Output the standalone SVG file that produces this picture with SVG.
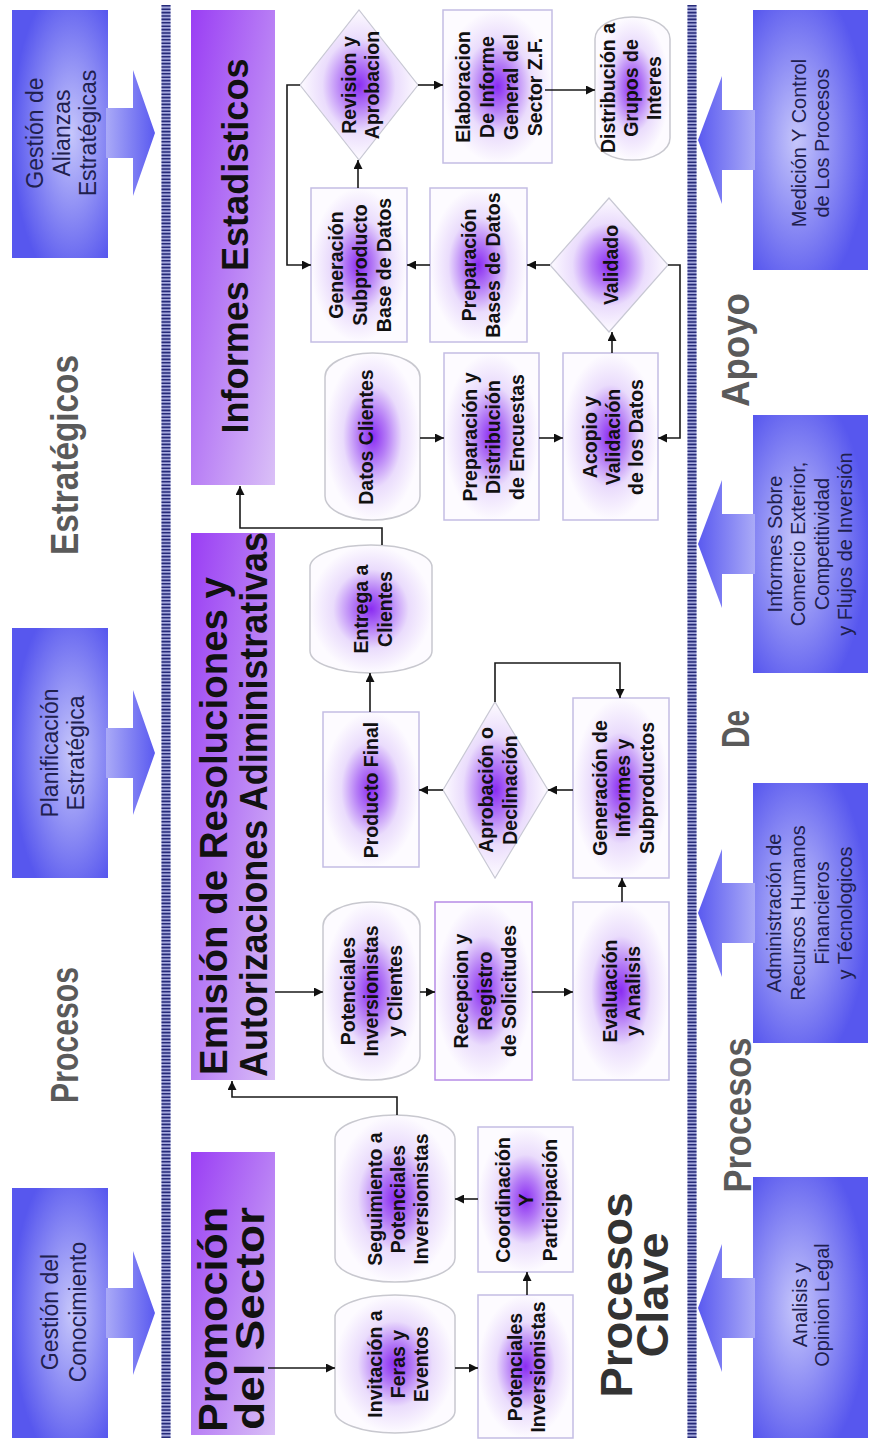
<svg xmlns="http://www.w3.org/2000/svg" width="869" height="1443" viewBox="0 0 869 1443">
<defs>
<style>
.nt{font-family:"Liberation Sans",Arial,sans-serif;font-weight:bold;font-size:19.5px;fill:#111;text-anchor:middle}
.bt{font-family:"Liberation Sans",Arial,sans-serif;font-size:23px;fill:#20204e;text-anchor:middle}
.st{font-family:"Liberation Sans",Arial,sans-serif;font-size:20px;fill:#20204e;text-anchor:middle}
.lb{font-family:"Liberation Sans",Arial,sans-serif;font-weight:bold;font-size:38px;fill:#5a5a5a;text-anchor:middle}
.ck{font-family:"Liberation Sans",Arial,sans-serif;font-weight:bold;font-size:44px;fill:#333;text-anchor:middle}
.tt{font-family:"Liberation Sans",Arial,sans-serif;font-weight:bold;fill:#111}
.rn{fill:url(#ng);stroke:#c3bde4;stroke-width:1.5}
.tn{fill:url(#ng);stroke:#c8c8cf;stroke-width:1.5}
.dn{fill:url(#ng);stroke:#c8c8d4;stroke-width:1.2}
.bar{fill:url(#barg)}
.bl{fill:url(#bbL)}
.br{fill:url(#bbR)}
.al{fill:url(#agL)}
.ar{fill:url(#agR)}
.c{fill:none;stroke:#1a1a1a;stroke-width:1.6;marker-end:url(#ah)}
.sepa{stroke:#a4a8dc;stroke-width:9}
.sepb{stroke:#262a78;stroke-width:9;stroke-dasharray:1.6 1.8}
</style>
<radialGradient id="ng" cx="0.5" cy="0.5" r="0.5">
<stop offset="0" stop-color="#8a2cf2"/>
<stop offset="0.3" stop-color="#b57cf6"/>
<stop offset="0.62" stop-color="#eadcfc"/>
<stop offset="1" stop-color="#fdfbff"/>
</radialGradient>
<linearGradient id="barg" x1="1" y1="0" x2="0" y2="1">
<stop offset="0" stop-color="#9a3ef4"/>
<stop offset="0.5" stop-color="#b87ef5"/>
<stop offset="1" stop-color="#dac0f7"/>
</linearGradient>
<radialGradient id="bbL" cx="0.5" cy="0.62" r="0.62">
<stop offset="0" stop-color="#c6c6fb"/>
<stop offset="1" stop-color="#5757ee"/>
</radialGradient>
<radialGradient id="bbR" cx="0.5" cy="0.38" r="0.62">
<stop offset="0" stop-color="#c6c6fb"/>
<stop offset="1" stop-color="#5757ee"/>
</radialGradient>
<linearGradient id="agL" x1="0" y1="0" x2="0" y2="1">
<stop offset="0" stop-color="#aaaaf7"/>
<stop offset="1" stop-color="#5a5af0"/>
</linearGradient>
<linearGradient id="agR" x1="0" y1="0" x2="0" y2="1">
<stop offset="0" stop-color="#5a5af0"/>
<stop offset="1" stop-color="#aaaaf7"/>
</linearGradient>
<marker id="ah" viewBox="0 0 10 10" refX="10" refY="5" markerWidth="10" markerHeight="9" markerUnits="userSpaceOnUse" orient="auto">
<path d="M0,0 L10,5 L0,10 z" fill="#111"/>
</marker>
</defs>
<rect width="869" height="1443" fill="#fff"/>
<g transform="translate(0,1443) rotate(-90)">

<g id="separators">
<line class="sepa" x1="5" y1="166" x2="1438" y2="166"/>
<line class="sepb" x1="5" y1="166" x2="1438" y2="166"/>
<line class="sepa" x1="5" y1="692" x2="1438" y2="692"/>
<line class="sepb" x1="5" y1="692" x2="1438" y2="692"/>
</g>

<g id="labels">
<text class="lb" x="988" y="78" textLength="200" lengthAdjust="spacingAndGlyphs">Estratégicos</text>
<text class="lb" x="408" y="78" textLength="136" lengthAdjust="spacingAndGlyphs">Procesos</text>
<text class="lb" x="1093" y="749" textLength="114" lengthAdjust="spacingAndGlyphs">Apoyo</text>
<text class="lb" x="714" y="749" textLength="38" lengthAdjust="spacingAndGlyphs">De</text>
<text class="lb" x="328" y="751" textLength="155" lengthAdjust="spacingAndGlyphs">Procesos</text>
<text class="ck" x="148" y="632" textLength="205" lengthAdjust="spacingAndGlyphs">Procesos</text>
<text class="ck" x="148" y="668" textLength="125" lengthAdjust="spacingAndGlyphs">Clave</text>
</g>

<g id="gestion-alianzas">
<rect class="bl" x="1185" y="12" width="248" height="96"/>
<polygon class="al" points="1285,106 1285,133 1247,133 1310,155 1373,133 1335,133 1335,106"/>
<text class="bt" x="1310" y="43">Gestión de</text>
<text class="bt" x="1310" y="70">Alianzas</text>
<text class="bt" x="1310" y="96">Estratégicas</text>
</g>
<g id="planificacion">
<rect class="bl" x="565" y="12" width="250" height="96"/>
<polygon class="al" points="665,106 665,133 628,133 690,155 753,133 715,133 715,106"/>
<text class="bt" x="690" y="58">Planificación</text>
<text class="bt" x="690" y="84">Estratégica</text>
</g>
<g id="gestion-conocimiento">
<rect class="bl" x="5" y="12" width="250" height="96"/>
<polygon class="al" points="105,106 105,133 68,133 130,155 192,133 155,133 155,106"/>
<text class="bt" x="131" y="58">Gestión del</text>
<text class="bt" x="131" y="86">Conocimiento</text>
</g>

<g id="medicion">
<rect class="br" x="1173" y="753" width="260" height="115"/>
<polygon class="ar" points="1273,755 1273,722 1239,722 1303,698 1367,722 1333,722 1333,755"/>
<text class="st" x="1300" y="806">Medición Y Control</text>
<text class="st" x="1300" y="829">de Los Procesos</text>
</g>
<g id="informes-sobre">
<rect class="br" x="770" y="753" width="258" height="115"/>
<polygon class="ar" points="869,755 869,722 835,722 899,698 963,722 929,722 929,755"/>
<text class="st" x="899" y="782">Informes Sobre</text>
<text class="st" x="899" y="805">Comercio Exterior,</text>
<text class="st" x="899" y="829">Competitividad</text>
<text class="st" x="899" y="852">y Flujos de Inversión</text>
</g>
<g id="administracion">
<rect class="br" x="400" y="753" width="260" height="115"/>
<polygon class="ar" points="500,755 500,722 466,722 530,698 594,722 560,722 560,755"/>
<text class="st" x="530" y="781">Administración de</text>
<text class="st" x="530" y="805">Recursos Humanos</text>
<text class="st" x="530" y="829">Financieros</text>
<text class="st" x="530" y="852">y Técnologicos</text>
</g>
<g id="analisis">
<rect class="br" x="5" y="753" width="261" height="115"/>
<polygon class="ar" points="105,755 105,722 71,722 135,698 199,722 165,722 165,755"/>
<text class="st" x="138" y="807">Analisis y</text>
<text class="st" x="138" y="829">Opinion Legal</text>
</g>

<g id="bar-informes">
<rect class="bar" x="958" y="191" width="475" height="84"/>
<text class="tt" x="1197" y="248" font-size="37" text-anchor="middle" textLength="375" lengthAdjust="spacingAndGlyphs">Informes Estadisticos</text>
</g>
<g id="bar-emision">
<rect class="bar" x="363" y="191" width="547" height="84"/>
<text class="tt" x="368" y="227" font-size="38" textLength="498" lengthAdjust="spacingAndGlyphs">Emisión de Resoluciones y</text>
<text class="tt" x="366" y="267" font-size="38" textLength="545" lengthAdjust="spacingAndGlyphs">Autorizaciones Adiministrativas</text>
</g>
<g id="bar-promocion">
<rect class="bar" x="8" y="191" width="283" height="84"/>
<text class="tt" x="11" y="227" font-size="41" textLength="225" lengthAdjust="spacingAndGlyphs">Promoción</text>
<text class="tt" x="13" y="264" font-size="41" textLength="223" lengthAdjust="spacingAndGlyphs">del Sector</text>
</g>

<g id="generacion-subproducto">
<rect class="rn" x="1101" y="311" width="154" height="96"/>
<text class="nt" x="1178" y="343">Generación</text>
<text class="nt" x="1178" y="367">Subproducto</text>
<text class="nt" x="1178" y="391">Base de Datos</text>
</g>
<g id="preparacion-bases">
<rect class="rn" x="1101" y="430" width="154" height="97"/>
<text class="nt" x="1178" y="476">Preparación</text>
<text class="nt" x="1178" y="500">Bases de Datos</text>
</g>
<g id="revision">
<polygon class="dn" points="1283,359 1358,300 1433,359 1358,418"/>
<text class="nt" x="1358" y="356">Revision y</text>
<text class="nt" x="1358" y="379">Aprobacion</text>
</g>
<g id="elaboracion">
<rect class="rn" x="1280" y="443" width="153" height="109"/>
<text class="nt" x="1356" y="470">Elaboracion</text>
<text class="nt" x="1356" y="494">De Informe</text>
<text class="nt" x="1356" y="518">General del</text>
<text class="nt" x="1356" y="542">Sector Z.F.</text>
</g>
<g id="distribucion">
<rect class="tn" x="1283" y="595" width="143" height="75" rx="22" ry="37"/>
<text class="nt" x="1355" y="615">Distribución a</text>
<text class="nt" x="1355" y="638">Grupos de</text>
<text class="nt" x="1355" y="661">Interes</text>
</g>
<g id="validado">
<polygon class="dn" points="1111,609 1178,550 1245,609 1178,668"/>
<text class="nt" x="1178" y="618">Validado</text>
</g>
<g id="datos-clientes">
<rect class="tn" x="923" y="325" width="167" height="95" rx="24" ry="47"/>
<text class="nt" x="1006" y="373">Datos Clientes</text>
</g>
<g id="preparacion-distribucion">
<rect class="rn" x="923" y="444" width="167" height="95"/>
<text class="nt" x="1006" y="477">Preparación y</text>
<text class="nt" x="1006" y="500">Distribución</text>
<text class="nt" x="1006" y="524">de Encuestas</text>
</g>
<g id="acopio">
<rect class="rn" x="923" y="563" width="167" height="95"/>
<text class="nt" x="1006" y="597">Acopio y</text>
<text class="nt" x="1006" y="620">Validación</text>
<text class="nt" x="1006" y="643">de los Datos</text>
</g>

<g id="entrega">
<rect class="tn" x="770" y="310" width="128" height="122" rx="22" ry="61"/>
<text class="nt" x="834" y="368">Entrega a</text>
<text class="nt" x="834" y="392">Clientes</text>
</g>
<g id="producto-final">
<rect class="rn" x="576" y="323" width="155" height="96"/>
<text class="nt" x="653" y="378">Producto Final</text>
</g>
<g id="aprobacion">
<polygon class="dn" points="565,495 653,443 741,495 653,548"/>
<text class="nt" x="653" y="493">Aprobación o</text>
<text class="nt" x="653" y="517">Declinación</text>
</g>
<g id="generacion-informes">
<rect class="rn" x="565" y="573" width="180" height="96"/>
<text class="nt" x="655" y="607">Generación de</text>
<text class="nt" x="655" y="630">Informes y</text>
<text class="nt" x="655" y="654">Subproductos</text>
</g>
<g id="evaluacion">
<rect class="rn" x="363" y="573" width="178" height="96"/>
<text class="nt" x="452" y="617">Evaluación</text>
<text class="nt" x="452" y="640">y Analisis</text>
</g>
<g id="recepcion">
<rect class="rn" x="363" y="435" width="178" height="97" style="stroke:#b68ce6"/>
<text class="nt" x="452" y="468">Recepcion y</text>
<text class="nt" x="452" y="492">Registro</text>
<text class="nt" x="452" y="516">de Solicitudes</text>
</g>
<g id="potenciales-clientes">
<rect class="tn" x="363" y="323" width="178" height="97" rx="24" ry="48"/>
<text class="nt" x="452" y="355">Potenciales</text>
<text class="nt" x="452" y="378">Inversionistas</text>
<text class="nt" x="452" y="402">y Clientes</text>
</g>

<g id="seguimiento">
<rect class="tn" x="161" y="335" width="167" height="120" rx="24" ry="60"/>
<text class="nt" x="244" y="382">Seguimiento a</text>
<text class="nt" x="244" y="405">Potenciales</text>
<text class="nt" x="244" y="428">Inversionistas</text>
</g>
<g id="coordinacion">
<rect class="rn" x="171" y="478" width="145" height="95"/>
<text class="nt" x="243" y="510">Coordinación</text>
<text class="nt" x="243" y="533">Y</text>
<text class="nt" x="243" y="557">Participación</text>
</g>
<g id="invitacion">
<rect class="tn" x="10" y="335" width="138" height="120" rx="22" ry="60"/>
<text class="nt" x="79" y="382">Invitación a</text>
<text class="nt" x="79" y="405">Feras y</text>
<text class="nt" x="79" y="428">Eventos</text>
</g>
<g id="potenciales-inversionistas">
<rect class="rn" x="5" y="478" width="143" height="95"/>
<text class="nt" x="76" y="522">Potenciales</text>
<text class="nt" x="76" y="545">Inversionistas</text>
</g>

<g id="connectors">
<path class="c" d="M1005,420 L1005,444"/>
<path class="c" d="M1005,539 L1005,563"/>
<path class="c" d="M1090,612 L1111,612"/>
<path class="c" d="M1178,668 L1178,680 L1005,680 L1005,658"/>
<path class="c" d="M1178,550 L1178,527"/>
<path class="c" d="M1178,430 L1178,407"/>
<path class="c" d="M1255,358 L1283,358"/>
<path class="c" d="M1358,300 L1358,287 L1178,287 L1178,311"/>
<path class="c" d="M1358,418 L1358,443"/>
<path class="c" d="M1353,545 L1353,595"/>
<path class="c" d="M898,382 L915,382 L915,240 L957,240"/>
<path class="c" d="M731,370 L770,370"/>
<path class="c" d="M653,443 L653,419"/>
<path class="c" d="M741,495 L780,495 L780,620 L745,620"/>
<path class="c" d="M653,573 L653,548"/>
<path class="c" d="M541,622 L565,622"/>
<path class="c" d="M451,532 L451,573"/>
<path class="c" d="M451,420 L451,435"/>
<path class="c" d="M451,275 L451,323"/>
<path class="c" d="M328,397 L346,397 L346,232 L362,232"/>
<path class="c" d="M244,478 L244,455"/>
<path class="c" d="M148,527 L171,527"/>
<path class="c" d="M75,455 L75,478"/>
<path class="c" d="M75,268 L75,335"/>
</g>
</g>
</svg>
